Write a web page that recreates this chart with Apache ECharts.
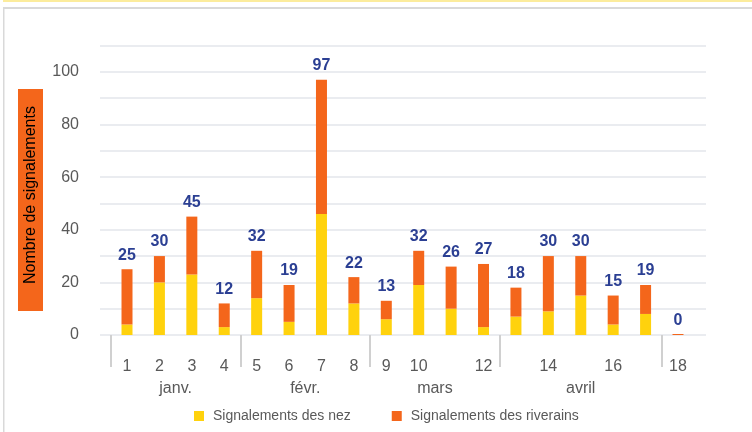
<!DOCTYPE html>
<html>
<head>
<meta charset="utf-8">
<script src="https://cdn.jsdelivr.net/npm/echarts@6/dist/echarts.min.js"></script>
<style>html,body{margin:0;padding:0;background:#fff;}#c{width:752px;height:432px;}</style>
</head>
<body>
<div id="c"></div>
<script>
const days = ['1','2','3','4','5','6','7','8','9','10','11','12','13','14','15','16','17','18'];
const shownDays = ['1','2','3','4','5','6','7','8','9','10','12','14','16','18'];
const months = ['janv.','févr.','mars','avril'];
const monthSpans = [4,4,4,5];
const nez = [4,20,23,3,14,5,46,12,6,19,10,3,7,9,15,4,8,0];
const riverains = [21,10,22,9,18,14,51,10,7,13,16,24,11,21,15,11,11,0];
const totals = [25,30,45,12,32,19,97,22,13,32,26,27,18,30,30,15,19,0];
const yTicks = [0,20,40,60,80,100];
const yTitle = 'Nombre de signalements';
const seriesNames = ['Signalements des nez','Signalements des riverains'];

const monthCenters = [];
const separators = [0];
let acc = 0;
monthSpans.forEach(s => { monthCenters.push(acc + s / 2); acc += s; separators.push(acc); });

const FONT = "'Liberation Sans', Arial, sans-serif";
const GRAY = '#595959';
const YELLOW = '#FFD20D';
const ORANGE = '#F4661B';
const BLUE = '#2B3F93';

const chart = echarts.init(document.getElementById('c'), null, {renderer: 'canvas'});
chart.setOption({
  animation: false,
  textStyle: {fontFamily: FONT},
  grid: [
    {left: 100, right: 46, top: 45.6, bottom: 97},
    {left: 110.8, right: 57.8, top: 45.6, bottom: 97}
  ],
  xAxis: [
    {type: 'category', gridIndex: 1, data: days, boundaryGap: true,
     axisLine: {show: false}, axisTick: {show: false}, splitLine: {show: false},
     axisLabel: {color: GRAY, fontSize: 16, fontFamily: FONT, margin: 24,
       interval: (i, v) => shownDays.includes(v)}},
    {type: 'value', gridIndex: 1, min: 0, max: days.length, position: 'bottom',
     axisLine: {show: false}, splitLine: {show: false},
     axisTick: {show: true, customValues: separators, length: 32, lineStyle: {color: '#D0D0D0', width: 2}},
     axisLabel: {show: true, customValues: monthCenters, color: GRAY, fontSize: 16, fontFamily: FONT, margin: 46,
       formatter: v => { const i = monthCenters.indexOf(v); return i >= 0 ? months[i] : ''; }}},
    {type: 'category', gridIndex: 0, data: days, show: false}
  ],
  yAxis: [
    {type: 'value', gridIndex: 1, min: 0, max: 110, interval: 10, show: false, splitLine: {show: false}},
    {type: 'value', gridIndex: 0, min: 0, max: 110, interval: 10,
     axisLine: {show: false}, axisTick: {show: false},
     splitLine: {lineStyle: {color: '#E3E6EB', width: 1.5}},
     axisLabel: {color: GRAY, fontSize: 16, fontFamily: FONT, margin: 21, padding: [3, 0, 0, 0],
       formatter: v => yTicks.includes(v) ? String(v) : ''}}
  ],
  legend: {
    data: seriesNames, left: 189, top: 404, itemWidth: 10, itemHeight: 10, itemGap: 41,
    icon: 'rect',
    textStyle: {color: GRAY, fontSize: 14, fontFamily: FONT, padding: [0, 0, 0, 4]}
  },
  series: [
    {name: seriesNames[0], type: 'bar', stack: 't', xAxisIndex: 0, yAxisIndex: 0,
     data: nez, barWidth: 11, itemStyle: {color: YELLOW}},
    {name: seriesNames[1], type: 'bar', stack: 't', xAxisIndex: 0, yAxisIndex: 0,
     data: riverains, barWidth: 11, barMinHeight: 1, itemStyle: {color: ORANGE}},
    {name: 'totaux', type: 'scatter', xAxisIndex: 0, yAxisIndex: 0, data: totals,
     symbolSize: 0, silent: true, itemStyle: {opacity: 1},
     label: {show: true, position: 'top', distance: 6, color: BLUE, opacity: 1, fontSize: 16, fontWeight: 'bold', fontFamily: FONT,
       formatter: p => String(p.value)}}
  ],
  graphic: [
    {type: 'rect', shape: {x: 3, y: 0, width: 749, height: 2}, style: {fill: '#FCEC9C'}, silent: true},
    {type: 'rect', shape: {x: 3, y: 7, width: 749, height: 2}, style: {fill: '#D9D9D9'}, silent: true},
    {type: 'rect', shape: {x: 3, y: 7, width: 1.5, height: 425}, style: {fill: '#D9D9D9'}, silent: true},
    {type: 'rect', shape: {x: 18, y: 89, width: 25, height: 222}, style: {fill: ORANGE}, silent: true},
    {type: 'text', x: 31, y: 195, rotation: Math.PI / 2,
     style: {text: yTitle, fill: '#000', font: "16px 'Liberation Sans', Arial, sans-serif", align: 'center', verticalAlign: 'middle'}, silent: true}
  ]
});
</script>
</body>
</html>
